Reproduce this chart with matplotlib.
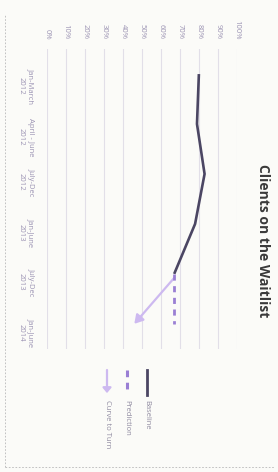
import matplotlib
matplotlib.use("Agg")
import matplotlib.pyplot as plt
from matplotlib.lines import Line2D

plt.rcParams['font.family'] = ['Open Sans', 'DejaVu Sans']

periods = ["Jan-March\n2012", "April - June\n2012", "July-Dec\n2012",
           "Jan-June\n2013", "July-Dec\n2013", "Jan-June\n2014"]
baseline = [80, 79, 83, 78, 67]
prediction = [67, 67]          # last two periods
turn_from = 67                 # arrow "Curve to Turn", period 5 -> 6
turn_to = 46
pct_ticks = [0, 10, 20, 30, 40, 50, 60, 70, 80, 90, 100]

dark = "#4b4663"
purple = "#9a7fd4"
lilac = "#cdb9f0"
label_col = "#9b93b3"

fig = plt.figure(figsize=(2.78, 4.72), dpi=100)
fig.patch.set_facecolor("#fbfbf8")

# chart is photographed on its side: percent runs left->right, time top->bottom
ax = fig.add_axes([0.169, 0.261, 0.683, 0.635])
ax.set_facecolor("#fbfbf8")
pos = list(range(len(periods)))

ax.plot(baseline, pos[:len(baseline)], color=dark, lw=1.9,
        solid_capstyle="butt", zorder=3)
ax.plot(prediction, pos[-len(prediction):], color=purple, lw=2.0,
        dashes=(2.2, 2.0), zorder=3)
ax.annotate("", xy=(turn_to, pos[-1]), xytext=(turn_from, pos[-2] + 0.08),
            arrowprops=dict(arrowstyle="-|>,head_length=0.5,head_width=0.3",
                            color=lilac, lw=1.6, shrinkA=0, shrinkB=0),
            zorder=2)

ax.set_xlim(0, 100)
ax.set_ylim(len(periods) - 0.5, -0.5)
ax.set_xticks(pct_ticks)
ax.set_xticklabels(["%d%%" % p for p in pct_ticks], rotation=-90,
                   fontsize=5.5, color=label_col)
ax.xaxis.tick_top()
ax.set_yticks(pos)
ax.set_yticklabels(periods, rotation=-90, fontsize=5.5, color=label_col,
                   multialignment="center", linespacing=1.5)
ax.tick_params(axis="x", length=0, pad=7)
ax.tick_params(axis="y", length=0, pad=9)
ax.grid(axis="x", color="#e2dfe8", lw=0.8)
ax.set_axisbelow(True)
for s in ax.spines.values():
    s.set_visible(False)

# title (rotated like the photo)
fig.text(0.945, 0.49, "Clients on the Waitlist", rotation=-90,
         fontsize=10, fontweight="bold", color="#3a3a3a",
         ha="center", va="center")

# hand made legend, also rotated
def legend_item(x, label, kind):
    y0, y1 = 1 - 370 / 472., 1 - 395 / 472.
    if kind == "line":
        fig.add_artist(Line2D([x, x], [y0, y1], color=dark, lw=2.0))
    elif kind == "dash":
        fig.add_artist(Line2D([x, x], [y0, y1 + 0.008], color=purple, lw=2.2,
                              dashes=(2.2, 1.8)))
    else:
        fig.add_artist(matplotlib.patches.FancyArrowPatch(
            (x, y0), (x, y1 + 0.004), transform=fig.transFigure,
            arrowstyle="-|>,head_length=3,head_width=2.5", color=lilac,
            lw=1.6, shrinkA=0, shrinkB=0))
    fig.text(x, 1 - 400 / 472., label, rotation=-90, fontsize=5.5,
             color="#8f8aa0", ha="center", va="top")

legend_item(147 / 278., "Baseline", "line")
legend_item(127 / 278., "Prediction", "dash")
legend_item(107 / 278., "Curve to Turn", "arrow")

# faint photo frame on the left and bottom
fig.add_artist(Line2D([0.018, 0.018], [0.01, 0.97], color="#b8b8b8",
                      lw=0.6, ls=(0, (2, 2))))
fig.add_artist(Line2D([0.018, 0.99], [0.01, 0.01], color="#b8b8b8",
                      lw=0.6, ls=(0, (2, 2))))

fig.savefig("out.png", dpi=100, facecolor=fig.get_facecolor())
